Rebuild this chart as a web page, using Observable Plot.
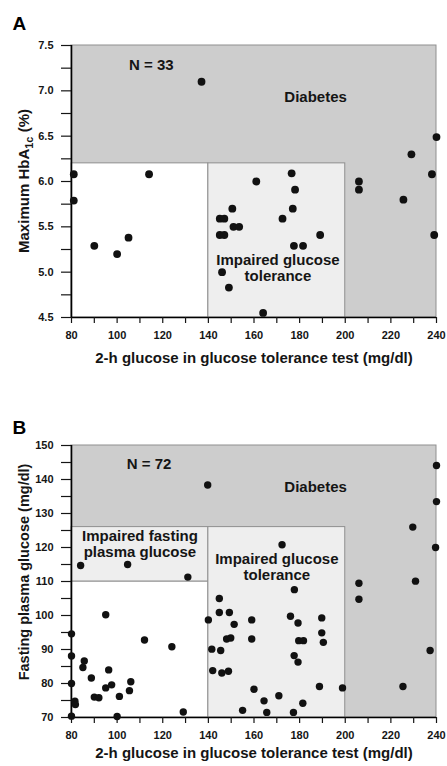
<!DOCTYPE html>
<html>
<head>
<meta charset="utf-8">
<script src="https://cdn.jsdelivr.net/npm/d3@7"></script>
<script src="https://cdn.jsdelivr.net/npm/@observablehq/plot@0.6"></script>
<style>
  html, body { margin: 0; padding: 0; background: #fff; }
  #chart { width: 447px; }
  #chart svg { display: block; }
</style>
</head>
<body>
<div id="chart"></div>
<script>
// ---------- data ----------
const xTicks = d3.range(80, 241, 10);
const aYTicks = [4.5, 4.75, 5, 5.25, 5.5, 5.75, 6, 6.25, 6.5, 6.75, 7, 7.25, 7.5];
const bYTicks = d3.range(70, 151, 5);

const xDomain = [80, 240];
const aYDomain = [4.5, 7.5];
const bYDomain = [70, 150];
const igtRange = [140, 200];
const aCut = 6.2;
const ifgRange = [110, 126];

// Panel A: 2-h glucose vs maximum HbA1c
const aGlucose2h = [137, 240, 229, 81, 114, 161, 176.5, 178, 206, 206, 238, 81, 90, 100, 105, 225.5, 239,
  145, 147, 145, 147, 150.5, 151, 153.5, 146, 149, 164, 172.5, 177, 177.5, 181.5, 189];
const aHbA1c = [7.1, 6.49, 6.3, 6.08, 6.08, 6.0, 6.09, 5.91, 6.0, 5.91, 6.08, 5.79, 5.29, 5.2, 5.38, 5.8, 5.41,
  5.59, 5.59, 5.41, 5.41, 5.7, 5.5, 5.5, 5.0, 4.83, 4.55, 5.59, 5.7, 5.29, 5.29, 5.41];

// Panel B: 2-h glucose vs fasting plasma glucose
const bGlucose2h = [95, 80, 112, 124, 80, 85.6, 85, 96.3, 88.7, 80,
  106, 97.6, 95, 105.4, 90, 92, 101, 81.5, 81.7, 80,
  100, 129, 84, 104.6, 131, 139.7, 172.3, 177.7, 144.8, 144.8,
  149.2, 140, 151.3, 159, 176, 179.3, 189.7, 148, 149.8, 159,
  179.6, 181.7, 189.7, 190.4, 141.5, 145.4, 177.6, 179.3, 141.9, 145.9,
  148.8, 160, 188.7, 198.8, 170.9, 164.4, 181.4, 155, 165.6, 177.3,
  240, 240, 229.6, 239.6, 206, 230.8, 206, 237.2, 225.3];
const bFasting = [100.2, 94.6, 92.8, 90.8, 88.1, 86.6, 84.7, 84, 81.6, 80,
  80.5, 79.6, 78.7, 77.9, 76, 75.8, 76.2, 74.8, 73.8, 70.4,
  70.3, 71.6, 114.7, 115, 111.3, 138.4, 120.8, 107.6, 105, 100.9,
  100.9, 98.7, 97.4, 98.7, 99.8, 97.8, 99.3, 93.1, 93.4, 93.1,
  92.6, 92.6, 94.9, 92.1, 90.1, 89.7, 88.2, 86.3, 83.8, 83.1,
  83.6, 78.3, 79.1, 78.7, 76.4, 74.9, 74.2, 72.1, 71.5, 71.5,
  144.1, 133.5, 126, 120, 109.5, 110.1, 104.8, 89.7, 79.1];

// annotation labels (data coordinates)
const aNotes = [
  {text: "N = 33", x: 115, y: 7.29},
  {text: "Diabetes", x: 187, y: 6.93},
  {text: "Impaired glucose\ntolerance", x: 170.5, y: 5.05}
];
const bNotes = [
  {text: "N = 72", x: 114, y: 144.7},
  {text: "Diabetes", x: 187, y: 137.7},
  {text: "Impaired fasting\nplasma glucose", x: 110, y: 121.2},
  {text: "Impaired glucose\ntolerance", x: 170, y: 114.4}
];

const xTitle = "2-h glucose in glucose tolerance test (mg/dl)";
const bYTitle = "Fasting plasma glucose (mg/dl)";

// ---------- derived tables ----------
const aData = aGlucose2h.map((x, i) => ({x, y: aHbA1c[i]}));
const bData = bGlucose2h.map((x, i) => ({x, y: bFasting[i]}));

const aZones = [
  {kind: "diabetes", x1: xDomain[0], x2: xDomain[1], y1: aYDomain[0], y2: aYDomain[1]},
  {kind: "normal", x1: xDomain[0], x2: igtRange[0], y1: aYDomain[0], y2: aCut},
  {kind: "impaired", x1: igtRange[0], x2: igtRange[1], y1: aYDomain[0], y2: aCut}
];
const bZones = [
  {kind: "diabetes", x1: xDomain[0], x2: xDomain[1], y1: bYDomain[0], y2: bYDomain[1]},
  {kind: "normal", x1: xDomain[0], x2: igtRange[0], y1: bYDomain[0], y2: ifgRange[0]},
  {kind: "impaired", x1: xDomain[0], x2: igtRange[0], y1: ifgRange[0], y2: ifgRange[1]},
  {kind: "impaired", x1: igtRange[0], x2: igtRange[1], y1: bYDomain[0], y2: ifgRange[1]}
];

const zoneFill = {diabetes: "#cdcdcd", normal: "#ffffff", impaired: "#eeeeee"};
const font = "'Liberation Sans', Arial, Helvetica, sans-serif";
const ink = "#151515";

function panel({data, zones, notes, yDomain, yTicks, yFmt, height, marginBottom, letter, letterDy, xTitleDy, r}) {
  return Plot.plot({
    width: 447,
    height,
    marginLeft: 71,
    marginRight: 11,
    marginTop: 45,
    marginBottom,
    style: {fontFamily: font, fontSize: "11px", color: ink, background: "#fff", overflow: "visible"},
    x: {domain: xDomain, label: null},
    y: {domain: yDomain, label: null},
    marks: [
      Plot.rect(zones, {x1: "x1", x2: "x2", y1: "y1", y2: "y2",
        fill: d => zoneFill[d.kind], stroke: "#8f8f8f", strokeWidth: 1}),
      Plot.ruleX([xDomain[0]], {y1: yDomain[0], y2: yDomain[1], stroke: "#000", strokeWidth: 1.6}),
      Plot.ruleY([yDomain[0]], {x1: xDomain[0], x2: xDomain[1], stroke: "#000", strokeWidth: 1.6}),
      Plot.axisX(xTicks, {tickSize: 6, tickPadding: 8, label: null,
        tickFormat: d => d % 20 === 0 ? String(d) : "",
        fontSize: 11, fontWeight: "bold", strokeWidth: 1.2}),
      Plot.axisY(yTicks, {tickSize: 10, tickPadding: 8, label: null,
        tickFormat: yFmt, fontSize: 11, fontWeight: "bold", strokeWidth: 1.2}),
      Plot.text(notes, {x: "x", y: "y", text: "text", fontSize: 15, fontWeight: "bold",
        fill: ink, lineHeight: 1.07}),
      Plot.dot(data, {x: "x", y: "y", r, fill: "#111", stroke: null}),
      Plot.text([xTitle], {frameAnchor: "bottom", dy: xTitleDy, fontSize: 15, fontWeight: "bold", fill: ink}),
      Plot.text([letter], {frameAnchor: "top-left", dx: -59, dy: letterDy, textAnchor: "start",
        lineAnchor: "bottom", fontSize: 19, fontWeight: "bold", fill: "#000"})
    ]
  });
}

const svgA = panel({
  data: aData, zones: aZones, notes: aNotes, yDomain: aYDomain, yTicks: aYTicks,
  yFmt: d => Number.isInteger(Math.round(d * 100) / 50) ? d.toFixed(1) : "",
  height: 400, marginBottom: 83, letter: "A", letterDy: -16, xTitleDy: 45, r: 3.9
});

const svgB = panel({
  data: bData, zones: bZones, notes: bNotes, yDomain: bYDomain, yTicks: bYTicks,
  yFmt: d => d % 10 === 0 ? String(d) : "",
  height: 366, marginBottom: 49, letter: "B", letterDy: -12, xTitleDy: 40, r: 3.7
});

// Y titles (A has a subscript, so written with tspans)
const aTitle = d3.select(svgA).append("text")
  .attr("transform", "translate(24,181) rotate(-90)")
  .attr("text-anchor", "middle")
  .attr("dy", "0.35em")
  .attr("font-size", 15)
  .attr("font-weight", "bold")
  .attr("fill", ink);
aTitle.append("tspan").text("Maximum HbA");
aTitle.append("tspan").attr("font-size", 11).attr("dy", 4).text("1c");
aTitle.append("tspan").attr("dy", -4).text(" (%)");

d3.select(svgB).append("text")
  .attr("transform", "translate(24,172) rotate(-90)")
  .attr("text-anchor", "middle")
  .attr("dy", "0.35em")
  .attr("font-size", 14.5)
  .attr("font-weight", "bold")
  .attr("fill", ink)
  .text(bYTitle);

document.getElementById("chart").append(svgA, svgB);
</script>
</body>
</html>
